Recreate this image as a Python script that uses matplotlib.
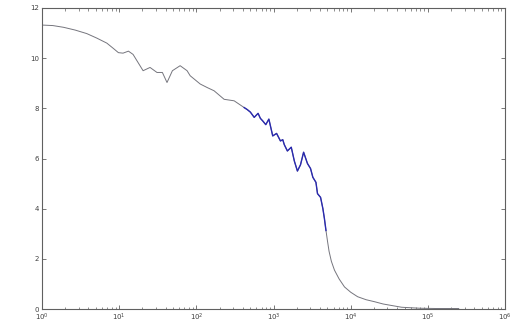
import numpy as np
import matplotlib
matplotlib.use("Agg")
import matplotlib.pyplot as plt
from matplotlib.ticker import LogLocator, LogFormatterMathtext, NullFormatter

# data: log10(x) and y
log_x = [0.0, 0.14, 0.28, 0.43, 0.58, 0.71, 0.84, 0.92, 0.99, 1.05, 1.12, 1.18,
         1.31, 1.40, 1.49, 1.56, 1.62, 1.69, 1.79, 1.88, 1.92, 2.05, 2.14,
         2.23, 2.36, 2.49, 2.62,
         2.66, 2.70, 2.75, 2.80, 2.83, 2.86, 2.90, 2.94, 2.99, 3.04, 3.09,
         3.12, 3.14, 3.18, 3.23, 3.27, 3.31, 3.35, 3.39, 3.44, 3.48, 3.51,
         3.55, 3.57, 3.61, 3.64, 3.66, 3.68, 3.70, 3.72,
         3.75, 3.79, 3.85, 3.92, 4.00, 4.09, 4.20, 4.31, 4.42, 4.53, 4.66,
         4.90, 5.10, 5.40]
y_vals = [11.32, 11.3, 11.23, 11.12, 10.98, 10.8, 10.6, 10.4, 10.22, 10.2, 10.28, 10.15,
          9.5, 9.63, 9.43, 9.43, 9.03, 9.5, 9.7, 9.5, 9.3, 8.97, 8.83,
          8.7, 8.36, 8.3, 8.03,
          7.95, 7.85, 7.64, 7.8, 7.6, 7.5, 7.35, 7.57, 6.9, 7.0, 6.7,
          6.75, 6.55, 6.3, 6.45, 5.9, 5.5, 5.75, 6.25, 5.8, 5.6, 5.25,
          5.05, 4.6, 4.45, 4.0, 3.6, 3.13, 2.7, 2.3,
          1.9, 1.55, 1.2, 0.88, 0.67, 0.49, 0.37, 0.29, 0.2, 0.14, 0.07,
          0.03, 0.02, 0.02]
blue_start, blue_end = 26, 55  # indices of the blue (dense) segment

x_vals = np.power(10.0, log_x)

fig = plt.figure(figsize=(5.29, 3.26), dpi=100)
ax = fig.add_axes([42/529, 1-309/326, (505-42)/529, (309-8)/326])

ax.plot(x_vals, y_vals, color="#75757d", lw=0.7)
ax.plot(x_vals[blue_start:blue_end], y_vals[blue_start:blue_end],
        color="#2a2ab0", lw=1.0)

ax.set_xscale("log")
ax.set_xlim(1, 1e6)
ax.set_ylim(0, 12)
ax.set_yticks([0, 2, 4, 6, 8, 10, 12])
ax.xaxis.set_major_locator(LogLocator(base=10, numticks=10))
ax.xaxis.set_minor_locator(LogLocator(base=10, subs=np.arange(2, 10), numticks=20))
ax.xaxis.set_major_formatter(LogFormatterMathtext())
ax.xaxis.set_minor_formatter(NullFormatter())

for sp in ax.spines.values():
    sp.set_color("#606060")
    sp.set_linewidth(0.8)
ax.tick_params(which="both", direction="in", top=True, right=True,
               colors="#606060", labelsize=5, labelcolor="#404040")
ax.tick_params(which="major", length=3, width=0.6, pad=2)
ax.tick_params(which="minor", length=1.8, width=0.5)

fig.savefig("out.png", dpi=100)
